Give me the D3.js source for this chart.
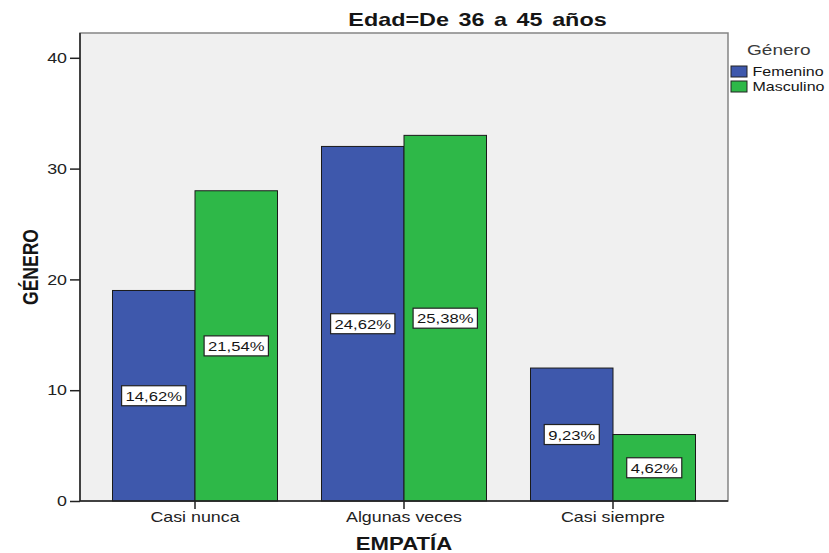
<!DOCTYPE html>
<html><head><meta charset="utf-8">
<script src="https://cdn.jsdelivr.net/npm/d3@7/dist/d3.min.js"></script>
<style>
body{margin:0;background:#fff;}
text{font-family:"Liberation Sans",Arial,sans-serif;fill:#151515;}
</style></head><body>
<svg id="c" width="829" height="553"></svg>
<script>
const categories = ["Casi nunca","Algunas veces","Casi siempre"];
const seriesNames = ["Femenino","Masculino"];
const femenino = [19,32,12];
const masculino = [28,33,6];
const femeninoPct = ["14,62%","24,62%","9,23%"];
const masculinoPct = ["21,54%","25,38%","4,62%"];
const yTicks = [0,10,20,30,40];
const colors = ["#3e58ac","#2eb848"];

const K = 1.23; // horizontal glyph stretch of the original
const svg = d3.select("#c");
const L=80,R=728,T=33,B=501;

function txt(parent,x,y,str,o={}){
  const t=parent.append("text")
    .attr("transform",`translate(${x},${y}) scale(${K},1)`+(o.rotate?` rotate(${o.rotate})`:""))
    .attr("text-anchor",o.anchor||"start")
    .attr("font-size",o.size||13)
    .attr("font-weight",o.weight||"normal")
    .text(str);
  if(o.ws) t.attr("word-spacing",o.ws);
  if(o.fill) t.style("fill",o.fill);
  return t;
}

svg.append("rect").attr("x",L).attr("y",T).attr("width",R-L).attr("height",B-T)
  .attr("fill","#f0f0f0").attr("stroke","#858585").attr("stroke-width",1.5);

const y = d3.scaleLinear().domain([0,40]).range([B, B-4*110.8]);
const x0 = d3.scaleBand().domain(categories).range([L,R]).paddingInner(0.2105).paddingOuter(0.1555);
const x1 = d3.scaleBand().domain(seriesNames).range([0,x0.bandwidth()]);

const data = categories.map((c,i)=>({c, vals:[
  {s:seriesNames[0],v:femenino[i],p:femeninoPct[i]},
  {s:seriesNames[1],v:masculino[i],p:masculinoPct[i]}]}));

const groups = svg.append("g").selectAll("g.grp").data(data).join("g").attr("class","grp")
  .attr("transform",d=>`translate(${x0(d.c)},0)`);
groups.selectAll("rect").data(d=>d.vals).join("rect")
  .attr("x",d=>x1(d.s)).attr("width",x1.bandwidth())
  .attr("y",d=>y(d.v)).attr("height",d=>y(0)-y(d.v))
  .attr("fill",(d,i)=>colors[i]).attr("stroke","#1a1a1a").attr("stroke-width",1);

// percentage labels at half height
groups.each(function(d){
  const gg=d3.select(this);
  d.vals.forEach(v=>{
    const cx=x1(v.s)+x1.bandwidth()/2, cy=y(v.v/2);
    const box=gg.append("rect");
    const t=txt(gg,cx,cy+5,v.p,{anchor:"middle",size:13.5});
    const w=t.node().getComputedTextLength()*K;
    box.attr("x",cx-w/2-4).attr("y",cy-10).attr("width",w+8).attr("height",20)
      .attr("fill","#fff").attr("stroke","#222").attr("stroke-width",1.2);
  });
});

// axes
const yAxis = d3.axisLeft(y).tickValues(yTicks).tickSize(10).tickPadding(3);
const ya = svg.append("g").attr("transform",`translate(${L},0)`).call(yAxis);
ya.select(".domain").remove();
ya.selectAll("text").attr("font-size",14.5).style("fill","#222").each(function(){
  const t=d3.select(this); t.attr("x",+t.attr("x")/K).attr("transform",`scale(${K},1)`);
});
ya.selectAll("line").attr("stroke","#222").attr("stroke-width",1.5);
svg.append("line").attr("x1",L).attr("x2",L).attr("y1",T).attr("y2",B).attr("stroke","#222").attr("stroke-width",1.5);
svg.append("line").attr("x1",L).attr("x2",R).attr("y1",B).attr("y2",B).attr("stroke","#222").attr("stroke-width",1.5);

const xAxis = d3.axisBottom(x0).tickSize(8).tickPadding(3);
const xa = svg.append("g").attr("transform",`translate(0,${B})`).call(xAxis);
xa.select(".domain").remove();
xa.selectAll("text").attr("font-size",14.5).style("fill","#222")
  .attr("transform",`scale(${K},1)`);
xa.selectAll("line").attr("stroke","#222").attr("stroke-width",1.5);

// titles
txt(svg,477.5,25.7,"Edad=De 36 a 45 años",{anchor:"middle",size:19,weight:"bold",ws:2.5});
txt(svg,404,550,"EMPATÍA",{anchor:"middle",size:18,weight:"bold"});
txt(svg,37.5,267,"GÉNERO",{anchor:"middle",size:17.5,weight:"bold",rotate:-90});

// legend
txt(svg,747,55,"Género",{size:15.5,fill:"#3a3a3a"});
seriesNames.forEach((s,i)=>{
  svg.append("rect").attr("x",731).attr("y",66+i*15).attr("width",16).attr("height",11)
    .attr("fill",colors[i]).attr("stroke","#222");
  txt(svg,752.5,76+i*15,s,{size:13});
});
</script></body></html>
